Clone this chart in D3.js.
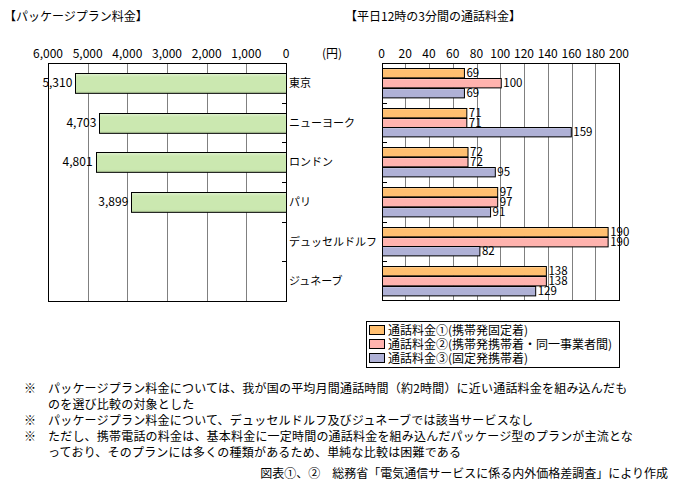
<!DOCTYPE html>
<html><head><meta charset="utf-8">
<script src="https://cdn.jsdelivr.net/npm/d3@7"></script>
<style>
body{margin:0;background:#fff;}
text{font-family:"Noto Sans CJK JP","Noto Sans",sans-serif;font-size:12px;fill:#000;}
</style></head>
<body><svg id="c" width="673" height="493"></svg>
<script>
const cities = ["東京","ニューヨーク","ロンドン","パリ","デュッセルドルフ","ジュネーブ"];
const packageCities = ["東京","ニューヨーク","ロンドン","パリ"];
const packageValues = [5310,4703,4801,3899];
const seriesNames = ["通話料金①(携帯発固定着)","通話料金②(携帯発携帯着・同一事業者間)","通話料金③(固定発携帯着)"];
const fee1 = [69,71,72,97,190,138];
const fee2 = [100,71,72,97,190,138];
const fee3 = [69,159,95,91,82,129];
const leftTicks = [0,1000,2000,3000,4000,5000,6000];
const rightTicks = [0,20,40,60,80,100,120,140,160,180,200];
const seriesColors = ["#FFBF70","#FFB3AE","#AFB1D6"];
const footnotes = [
 ["※","パッケージプラン料金については、我が国の平均月間通話時間（約2時間）に近い通話料金を組み込んだも"],
 ["","のを選び比較の対象とした"],
 ["※","パッケージプラン料金について、デュッセルドルフ及びジュネーブでは該当サービスなし"],
 ["※","ただし、携帯電話の料金は、基本料金に一定時間の通話料金を組み込んだパッケージ型のプランが主流とな"],
 ["","っており、そのプランには多くの種類があるため、単純な比較は困難である"]
];
const source = "図表①、②　総務省「電気通信サービスに係る内外価格差調査」により作成";

const svg = d3.select("#c");
const defs = svg.append("defs");
function grad(id, base){
  const c = d3.color(base);
  const g = defs.append("linearGradient").attr("id",id).attr("x1",0).attr("x2",0).attr("y1",0).attr("y2",1);
  g.append("stop").attr("offset","0%").attr("stop-color",d3.interpolateRgb(base,"#fff")(0.45));
  g.append("stop").attr("offset","18%").attr("stop-color",base);
  g.append("stop").attr("offset","85%").attr("stop-color",base);
  g.append("stop").attr("offset","100%").attr("stop-color",c.darker(0.25));
}
grad("g0","#CBE8B0");
seriesColors.forEach((c,i)=>grad("s"+i,c));

const pTop=63, pBottom=301;
// titles
svg.append("text").attr("x",4).attr("y",21).text("【パッケージプラン料金】");
svg.append("text").attr("x",345).attr("y",21).text("【平日12時の3分間の通話料金】");

// LEFT CHART
const xL = d3.scaleLinear().domain([0,6000]).range([286,48]);
const y = d3.scaleBand().domain(cities).range([pTop,pBottom]);
const yL = d3.scaleBand().domain(cities).range([pTop,pBottom]).paddingInner(0.5).paddingOuter(0.25);
const gL = svg.append("g");
gL.selectAll("line.grid").data(leftTicks.filter(t=>t>0&&t<6000)).join("line")
  .attr("x1",d=>Math.round(xL(d))+0.5).attr("x2",d=>Math.round(xL(d))+0.5).attr("y1",pTop).attr("y2",pBottom)
  .attr("stroke","#808080");
gL.append("rect").attr("x",Math.round(xL(6000))+0.5).attr("y",pTop+0.5).attr("width",Math.round(xL(0))-Math.round(xL(6000))).attr("height",pBottom-pTop)
  .attr("fill","none").attr("stroke","#000");
gL.selectAll("text.tick").data(leftTicks).join("text")
  .attr("x",d=>xL(d)).attr("y",58).attr("text-anchor","middle").text(d3.format(","));
svg.append("text").attr("x",322).attr("y",58).text("(円)");
gL.selectAll("line.ctick").data(d3.range(1,6)).join("line")
  .attr("x1",282).attr("x2",286).attr("y1",d=>Math.round(pTop+d*y.step())+0.5).attr("y2",d=>Math.round(pTop+d*y.step())+0.5)
  .attr("stroke","#000");
gL.selectAll("rect.bar").data(packageCities).join("rect")
  .attr("x",(d,i)=>Math.round(xL(packageValues[i]))+0.5).attr("y",d=>Math.round(yL(d))+0.5)
  .attr("width",(d,i)=>Math.round(xL(0))-Math.round(xL(packageValues[i]))).attr("height",yL.bandwidth())
  .attr("fill","url(#g0)").attr("stroke","#000");
gL.selectAll("text.val").data(packageCities).join("text")
  .attr("x",(d,i)=>xL(packageValues[i])-3).attr("y",d=>yL(d)+yL.bandwidth()/2+4)
  .attr("text-anchor","end").text((d,i)=>d3.format(",")(packageValues[i]));
svg.selectAll("text.cat").data(cities).join("text")
  .attr("x",289).attr("y",d=>y(d)+y.bandwidth()/2+4).style("font-size","11px").text(d=>d);

// RIGHT CHART
const xR = d3.scaleLinear().domain([0,200]).range([381.5,619]);
const sub = d3.scaleBand().domain([0,1,2]).range([5,y.step()-5]);
const gR = svg.append("g");
gR.selectAll("line.grid").data(rightTicks.filter(t=>t>0&&t<200)).join("line")
  .attr("x1",d=>Math.round(xR(d))+0.5).attr("x2",d=>Math.round(xR(d))+0.5).attr("y1",pTop).attr("y2",pBottom)
  .attr("stroke","#808080");
gR.append("rect").attr("x",Math.round(xR(0))+0.5).attr("y",pTop+0.5).attr("width",Math.round(xR(200))-Math.round(xR(0))).attr("height",pBottom-pTop-1)
  .attr("fill","none").attr("stroke","#000");
gR.selectAll("text.tick").data(rightTicks).join("text")
  .attr("x",d=>xR(d)).attr("y",58).attr("text-anchor","middle").text(d=>d);
gR.selectAll("line.ctick").data(d3.range(1,6)).join("line")
  .attr("x1",Math.round(xR(0))).attr("x2",Math.round(xR(0))+5).attr("y1",d=>Math.round(pTop+d*y.step())+0.5).attr("y2",d=>Math.round(pTop+d*y.step())+0.5)
  .attr("stroke","#000");
const series=[fee1,fee2,fee3];
series.forEach((vals,si)=>{
  const g = gR.append("g");
  g.selectAll("rect").data(cities).join("rect")
    .attr("x",Math.round(xR(0))+0.5).attr("y",d=>Math.round(y(d)+sub(si))+0.5)
    .attr("width",(d,i)=>xR(vals[i])-xR(0)).attr("height",sub.bandwidth()-0.5)
    .attr("fill","url(#s"+si+")").attr("stroke","#000");
  g.selectAll("text").data(cities).join("text")
    .attr("x",(d,i)=>xR(vals[i])+3).attr("y",d=>y(d)+sub(si)+sub.bandwidth()/2+4)
    .style("font-size","11.5px")
    .text((d,i)=>vals[i]);
});

// LEGEND
const lg = svg.append("g");
lg.append("rect").attr("x",366.5).attr("y",321.5).attr("width",253).attr("height",46).attr("fill","#fff").attr("stroke","#000");
seriesNames.forEach((n,i)=>{
  const yy = 330 + i*14;
  lg.append("rect").attr("x",369.5).attr("y",yy-4.5).attr("width",15).attr("height",9).attr("fill",seriesColors[i]).attr("stroke","#000");
  lg.append("text").attr("x",388).attr("y",yy+4.5).text(n);
});

// FOOTNOTES
const fy=[388,404,420,436,452];
footnotes.forEach((f,i)=>{
  if(f[0]) svg.append("text").attr("x",24).attr("y",fy[i]+4.5).text(f[0]);
  svg.append("text").attr("x",48).attr("y",fy[i]+4.5).attr("letter-spacing","0.2px").text(f[1]);
});
svg.append("text").attr("x",668).attr("y",478).attr("text-anchor","end").text(source);
</script></body></html>
